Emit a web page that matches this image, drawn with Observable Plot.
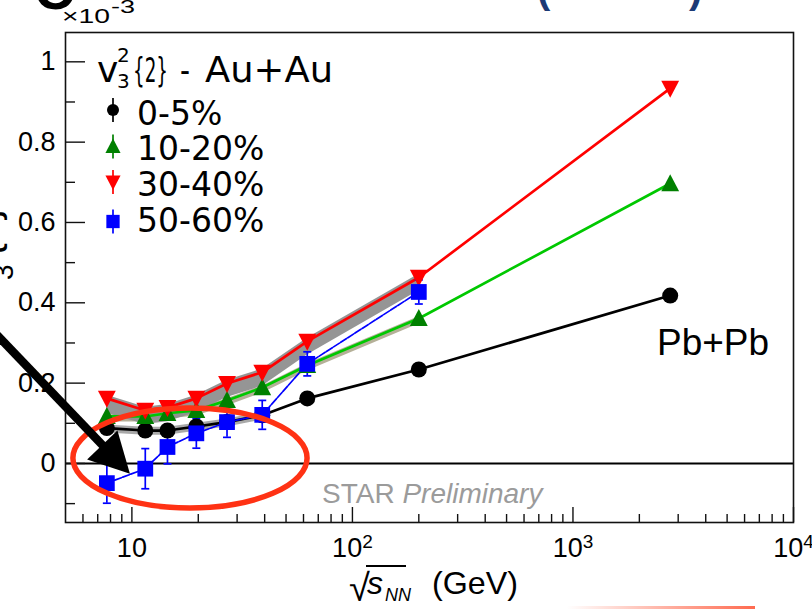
<!DOCTYPE html>
<html><head><meta charset="utf-8">
<script src="https://cdn.jsdelivr.net/npm/d3@7"></script>
<script src="https://cdn.jsdelivr.net/npm/@observablehq/plot@0.6"></script>
<style>
html,body{margin:0;padding:0;background:#fff;}
#chart{position:relative;width:812px;height:609px;overflow:hidden;background:#fff;}
#chart svg{display:block;position:absolute;left:0;top:0;}
#redbar{position:absolute;left:567px;top:606px;width:188px;height:3px;background:linear-gradient(to right,rgba(255,90,60,0),rgba(255,90,60,0.9));}
</style></head><body><div id="chart"><div id="redbar"></div></div>
<script>
// ---- data (values in units of 10^-3) ----
const energies = [7.7, 11.5, 14.5, 19.6, 27, 39, 62.4, 200];
const lhcEnergy = 2760;
const v3_0_5   = [0.088, 0.082, 0.082, 0.092, 0.103, 0.120, 0.162, 0.234];
const v3_10_20 = [0.117, 0.117, 0.125, 0.132, 0.157, 0.189, 0.244, 0.361];
const v3_30_40 = [0.162, 0.132, 0.139, 0.162, 0.199, 0.227, 0.304, 0.463];
const v3_50_60 = [-0.049, -0.013, 0.041, 0.075, 0.103, 0.121, 0.248, 0.427];
const err_50_60 = [0.050, 0.050, 0.042, 0.037, 0.038, 0.036, 0.030, 0.030];
const lhc_0_5 = 0.418, lhc_10_20 = 0.697, lhc_30_40 = 0.934;
// systematic bands
const sysLo_30_40 = [0.125, 0.097, 0.104, 0.127, 0.164, 0.192, 0.270, 0.430];
const sysHi_30_40 = [0.170, 0.140, 0.147, 0.170, 0.207, 0.235, 0.312, 0.471];
const sysLo_10_20 = [0.103, 0.103, 0.111, 0.118, 0.143, 0.175, 0.230, 0.347];
const sysHi_10_20 = [0.121, 0.121, 0.129, 0.136, 0.161, 0.193, 0.248, 0.365];
const sysLo_0_5 = [0.076, 0.070, 0.070, 0.080, 0.091, 0.108];
const sysHi_0_5 = [0.096, 0.090, 0.090, 0.100, 0.111, 0.128];
const centralityLabels = ["0-5%", "10-20%", "30-40%", "50-60%"];
const yMajor = [0, 0.2, 0.4, 0.6, 0.8, 1];
const yTickLabels = ["0", "0.2", "0.4", "0.6", "0.8", "1"];
const yMinor = [-0.1, 0.1, 0.3, 0.5, 0.7, 0.9];
const xMajor = [10, 100, 1000, 10000];
const xTickLabels = ["10", "10^2", "10^3", "10^4"];
const xMinor = [6,7,8,9,20,30,40,50,60,70,80,90,200,300,400,500,600,700,800,900,2000,3000,4000,5000,6000,7000,8000,9000];

// ---- layout ----
const W = 812, H = 609, mL = 65, mR = 19, mT = 32, mB = 87;
const innerW = W - mL - mR, innerH = H - mT - mB;

// ---- symbols ----
const triUp = {draw(c, s){const r=Math.sqrt(s/Math.PI); c.moveTo(0,-1.1*r); c.lineTo(1.05*r,0.9*r); c.lineTo(-1.05*r,0.9*r); c.closePath();}};
const triDown = {draw(c, s){const r=Math.sqrt(s/Math.PI); c.moveTo(0,1.1*r); c.lineTo(1.05*r,-0.9*r); c.lineTo(-1.05*r,-0.9*r); c.closePath();}};
const sq = {draw(c, s){const r=Math.sqrt(s/Math.PI)*0.95; c.rect(-r,-r,2*r,2*r);}};
const circ = {draw(c, s){const r=Math.sqrt(s/Math.PI); c.moveTo(r,0); c.arc(0,0,r,0,2*Math.PI);}};
const cap = {draw(c, s){const r=Math.sqrt(s/Math.PI); c.moveTo(-r,0); c.lineTo(r,0);}};

const series = [
  {label: centralityLabels[0], au: v3_0_5,   pb: lhc_0_5,   line: "#000000", marker: "#000000", sym: circ,    r: 8},
  {label: centralityLabels[1], au: v3_10_20, pb: lhc_10_20, line: "#00c800", marker: "#008000", sym: triUp,   r: 8.5},
  {label: centralityLabels[2], au: v3_30_40, pb: lhc_30_40, line: "#ff0000", marker: "#ff0000", sym: triDown, r: 8.5},
  {label: centralityLabels[3], au: v3_50_60, pb: null,      line: "#0000ff", marker: "#0000ff", sym: sq,      r: 8.3}
];
const rowsOf = s => {
  const rows = energies.map((e, i) => ({e, v: s.au[i]}));
  if (s.pb != null) rows.push({e: lhcEnergy, v: s.pb});
  return rows;
};
const band = (lo, hi) => lo.map((l, i) => ({e: energies[i], lo: l, hi: hi[i]}));
const blueRows = energies.map((e, i) => ({e, v: v3_50_60[i], lo: v3_50_60[i] - err_50_60[i], hi: v3_50_60[i] + err_50_60[i]}));

const marks = [
  Plot.areaY(band(sysLo_0_5, sysHi_0_5), {x: "e", y1: "lo", y2: "hi", fill: "#9a9a9a", fillOpacity: 0.85}),
  Plot.areaY(band(sysLo_10_20, sysHi_10_20), {x: "e", y1: "lo", y2: "hi", fill: "#a39c7e", fillOpacity: 0.8}),
  Plot.areaY(band(sysLo_30_40, sysHi_30_40), {x: "e", y1: "lo", y2: "hi", fill: "#8f8f8f", fillOpacity: 0.95}),
  Plot.ruleY([0], {stroke: "#000", strokeWidth: 2})
];
for (const s of series.slice(0, 3)) {
  marks.push(Plot.line(rowsOf(s), {x: "e", y: "v", stroke: s.line, strokeWidth: 2.7}));
}
marks.push(Plot.line(rowsOf(series[3]), {x: "e", y: "v", stroke: "#0000ff", strokeWidth: 1.7, strokeDasharray: "7,1.5"}));
marks.push(Plot.ruleX(blueRows, {x: "e", y1: "lo", y2: "hi", stroke: "#0000ff", strokeWidth: 1.7}));
marks.push(Plot.dot(blueRows, {x: "e", y: "lo", symbol: cap, r: 4, stroke: "#0000ff", fill: "none", strokeWidth: 1.7}));
marks.push(Plot.dot(blueRows, {x: "e", y: "hi", symbol: cap, r: 4, stroke: "#0000ff", fill: "none", strokeWidth: 1.7}));
for (const s of series) {
  marks.push(Plot.dot(rowsOf(s), {x: "e", y: "v", symbol: s.sym, r: s.r, fill: s.marker, stroke: "none"}));
}
marks.push(
  Plot.frame({stroke: "#111", strokeWidth: 1.6}),
  Plot.tickY(yMajor, {y: d => d, insetRight: innerW - 20, stroke: "#111", strokeWidth: 1.4}),
  Plot.tickY(yMinor, {y: d => d, insetRight: innerW - 10, stroke: "#111", strokeWidth: 1.4}),
  Plot.tickX(xMajor, {x: d => d, insetTop: innerH - 15, stroke: "#111", strokeWidth: 1.4}),
  Plot.tickX(xMinor, {x: d => d, insetTop: innerH - 8, stroke: "#111", strokeWidth: 1.4}),
  Plot.axisY({ticks: yMajor, tickSize: 0, tickPadding: 10, label: null, tickFormat: d => yTickLabels[yMajor.indexOf(d)]}),
  Plot.axisX({ticks: xMajor, tickSize: 0, tickPadding: 15, label: null, tickFormat: d => xTickLabels[xMajor.indexOf(d)]})
);

const plot = Plot.plot({
  width: W, height: H, marginLeft: mL, marginRight: mR, marginTop: mT, marginBottom: mB,
  style: {fontFamily: "'Liberation Sans', Arial, sans-serif", fontSize: "27px", background: "transparent", color: "#000"},
  x: {type: "log", domain: [5, 10000]},
  y: {domain: [-0.147, 1.073]},
  marks
});
document.getElementById("chart").appendChild(plot);

const svg = d3.select(plot);
const X = plot.scale("x").apply, Y = plot.scale("y").apply;

// superscripts on x tick labels
svg.selectAll('g[aria-label="x-axis tick label"] text').each(function() {
  const t = this.textContent;
  if (t.includes("^")) {
    const [b, p] = t.split("^");
    const el = d3.select(this);
    el.text(null);
    el.append("tspan").text(b);
    el.append("tspan").attr("dy", "-0.45em").attr("font-size", "19px").text(p);
  }
});

const ann = svg.append("g").attr("text-anchor", "start");
const DJ = "'DejaVu Sans', sans-serif", LS = "'Liberation Sans', Arial, sans-serif";

// legend header
const hdr = ann.append("g").attr("font-family", DJ).attr("fill", "#000");
hdr.append("text").attr("x", 97).attr("y", 82).attr("font-size", 36).text("v");
hdr.append("text").attr("x", 117).attr("y", 62).attr("font-size", 20).text("2");
hdr.append("text").attr("x", 117).attr("y", 88).attr("font-size", 20).text("3");
hdr.append("text").attr("x", 133).attr("y", 82).attr("font-size", 34).attr("textLength", 35).attr("lengthAdjust", "spacingAndGlyphs").text("{2}");
hdr.append("text").attr("x", 180).attr("y", 82).attr("font-size", 36).attr("textLength", 10).attr("lengthAdjust", "spacingAndGlyphs").text("-");
hdr.append("text").attr("x", 205).attr("y", 82).attr("font-size", 36).attr("textLength", 128).attr("lengthAdjust", "spacingAndGlyphs").text("Au+Au");

// legend entries
const legY = [110, 146.5, 182, 221.5], legBase = [125, 160, 195.5, 231.5];
const legSize = [6, 7.2, 7.2, 7];
series.forEach((s, i) => {
  ann.append("line").attr("x1", 113).attr("x2", 113).attr("y1", legY[i] - 12).attr("y2", legY[i] + 12)
    .attr("stroke", s.marker).attr("stroke-width", 1.7);
  ann.append("path").attr("transform", `translate(113,${legY[i]})`)
    .attr("d", d3.symbol().type(s.sym).size(Math.PI * legSize[i] * legSize[i])()).attr("fill", s.marker);
  ann.append("text").attr("x", 137).attr("y", legBase[i]).attr("font-family", DJ).attr("font-size", 33).text(s.label);
});

// Pb+Pb label
ann.append("text").attr("x", 657).attr("y", 355).attr("font-family", LS).attr("font-size", 36)
  .attr("textLength", 112).attr("lengthAdjust", "spacingAndGlyphs").text("Pb+Pb");

// STAR Preliminary
const star = ann.append("text").attr("x", 322).attr("y", 503).attr("font-family", LS).attr("font-size", 28).attr("fill", "#9b9b9b");
star.append("tspan").text("STAR ");
star.append("tspan").attr("font-style", "italic").text("Preliminary");

// x axis title
const xt = ann.append("g").attr("font-family", LS).attr("fill", "#000");
xt.append("text").attr("x", 349).attr("y", 601).attr("font-size", 38).text("√");
xt.append("line").attr("x1", 366).attr("x2", 406).attr("y1", 566).attr("y2", 566).attr("stroke", "#000").attr("stroke-width", 2);
xt.append("text").attr("x", 367).attr("y", 594).attr("font-size", 32).attr("font-style", "italic").text("s");
xt.append("text").attr("x", 385).attr("y", 601).attr("font-size", 18).attr("font-style", "italic").text("NN");
xt.append("text").attr("x", 432).attr("y", 594).attr("font-size", 32).attr("textLength", 86).attr("lengthAdjust", "spacingAndGlyphs").text("(GeV)");

// y exponent
ann.append("text").attr("x", 62).attr("y", 23).attr("font-family", LS).attr("font-size", 21)
  .attr("textLength", 48).attr("lengthAdjust", "spacingAndGlyphs").text("×10");
ann.append("text").attr("x", 111).attr("y", 13).attr("font-family", LS).attr("font-size", 19)
  .attr("textLength", 24).attr("lengthAdjust", "spacingAndGlyphs").text("-3");

// cut-off y axis title and slide title fragments
ann.append("text").attr("transform", "translate(-1,300) rotate(-90)").attr("font-family", LS).attr("font-size", 40)
  .call(t => { t.append("tspan").text("v"); t.append("tspan").attr("font-size", 28).attr("dy", 14).text("3"); t.append("tspan").attr("dy", -14).attr("dx", 8).text("{2}"); });
ann.append("text").attr("x", 34).attr("y", 9).attr("font-family", LS).attr("font-weight", "bold").attr("font-size", 56).text("C");
ann.append("text").attr("x", 537).attr("y", 3).attr("font-family", LS).attr("font-weight", "bold").attr("font-size", 40).attr("fill", "#1d3a75").text("(");
ann.append("text").attr("x", 689).attr("y", 3).attr("font-family", LS).attr("font-weight", "bold").attr("font-size", 40).attr("fill", "#1d3a75").text(")");

// red ellipse (data-space bounds)
const ellX = [5.43, 62.6], ellY = [-0.112, 0.137];
const ex0 = X(ellX[0]), ex1 = X(ellX[1]), ey0 = Y(ellY[1]), ey1 = Y(ellY[0]);
ann.append("ellipse").attr("cx", (ex0 + ex1) / 2).attr("cy", (ey0 + ey1) / 2)
  .attr("rx", (ex1 - ex0) / 2).attr("ry", (ey1 - ey0) / 2)
  .attr("fill", "none").attr("stroke", "#ff3214").attr("stroke-width", 5.5);

// black arrow
const arrowFrom = {e: 2.3, v: 0.335}, arrowTo = {e: 9.85, v: -0.027};
const ax0 = X(arrowFrom.e), ay0 = Y(arrowFrom.v), ax1 = X(arrowTo.e), ay1 = Y(arrowTo.v);
const L = Math.hypot(ax1 - ax0, ay1 - ay0), ux = (ax1 - ax0) / L, uy = (ay1 - ay0) / L;
const headL = 40, headW = 21;
const bx = ax1 - ux * headL, by = ay1 - uy * headL;
ann.append("line").attr("x1", ax0).attr("y1", ay0).attr("x2", bx + ux * 2).attr("y2", by + uy * 2)
  .attr("stroke", "#000").attr("stroke-width", 8.5);
ann.append("path").attr("d", `M${ax1},${ay1}L${bx - uy * headW},${by + ux * headW}L${bx + uy * headW},${by - ux * headW}Z`).attr("fill", "#000");
</script></body></html>
